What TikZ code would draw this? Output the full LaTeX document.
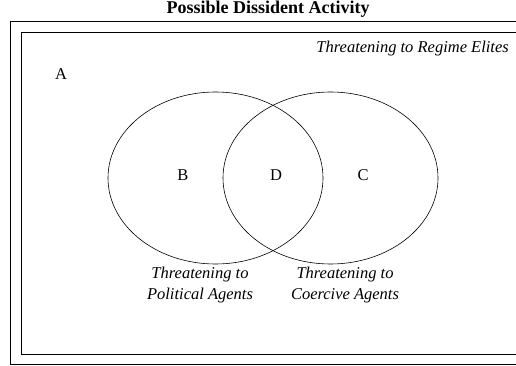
\documentclass[tikz,border=0pt]{standalone}
\usepackage{fontspec}
\setmainfont{Liberation Serif}
\usepackage{tikz}
\usetikzlibrary{positioning}

\tikzset{
    lbl/.style={inner sep=0pt, anchor=base, font=\fontsize{16.5}{21}\selectfont},
    setlbl/.style={inner sep=0pt, align=center, font=\fontsize{16.5}{21}\selectfont\itshape},
    setline/.style={line width=0.6pt},
    frameline/.style={line width=0.9pt}
}

\begin{document}
\begin{tikzpicture}[x=1pt, y=-1pt]
            \useasboundingbox (0,0) rectangle (516,366);
            \clip (0,0) rectangle (516,366);
            
            % frame of the universe
            \draw[frameline] (10,21) rectangle (530,364);
            \draw[frameline] (21,32) rectangle (524,354);
            
            \node[lbl, font=\fontsize{18}{21}\selectfont\bfseries] (title) at (268,13.5) {Possible Dissident Activity};
            \node[lbl, anchor=base east, font=\fontsize{16.5}{21}\selectfont\itshape] (elites) at (509,53) {Threatening to Regime Elites};
            
            % the two sets
            \coordinate (pol) at (215.5,178);
            \coordinate (coe) at (330.5,178);
            \draw[setline] (pol) ellipse [x radius=107.5, y radius=86];
            \draw[setline] (coe) ellipse [x radius=107.5, y radius=86];
            
            \node[lbl] (a) at (61,80) {A};
            \node[lbl] (b) at (183,180) {B};
            \node[lbl] (d) at (276,180) {D};
            \node[lbl] (c) at (363,180) {C};
            
            \node[setlbl] (poltext) at (200,285) {Threatening to\\Political Agents};
            \node[setlbl] (coetext) at (345,285) {Threatening to\\Coercive Agents};
        \end{tikzpicture}
\end{document}
